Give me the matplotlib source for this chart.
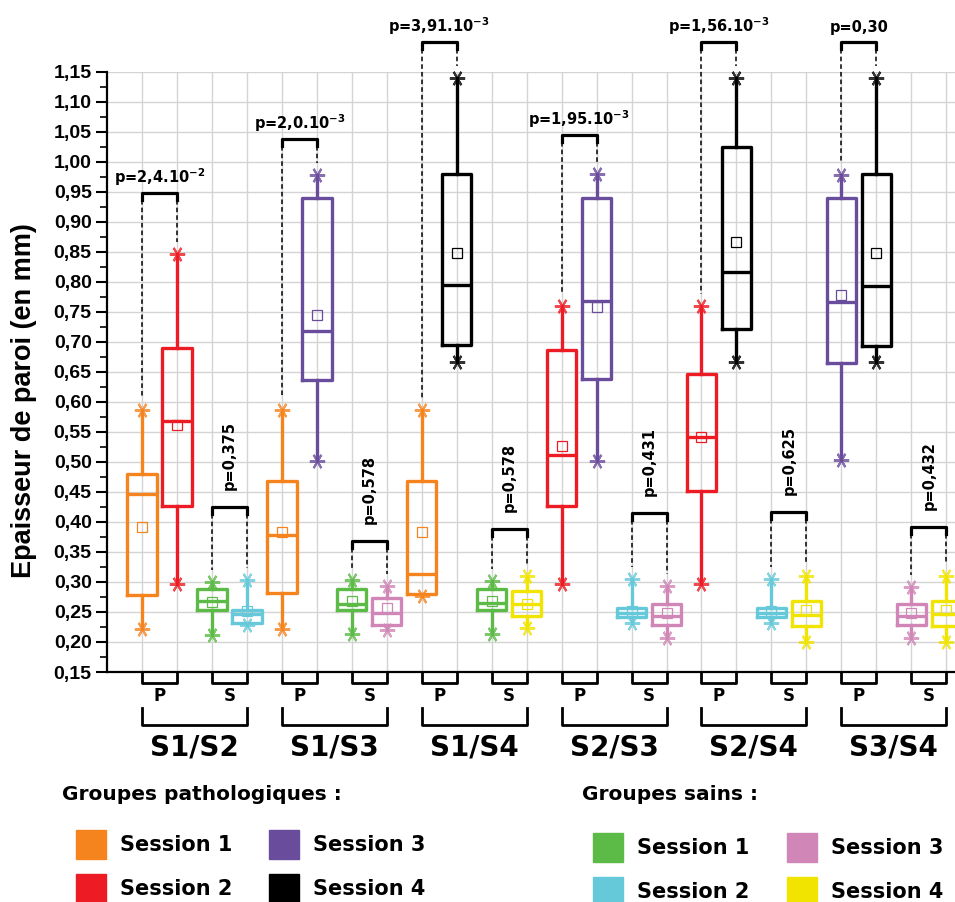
import numpy as np
import matplotlib.pyplot as plt
from matplotlib.patches import Rectangle

# colours of the sessions
path_colors = ['#F5841F', '#ED1C24', '#6A4C9C', '#000000']   # sessions 1-4, pathological
sain_colors = ['#5BBB46', '#66C9DA', '#D087B7', '#F0E400']   # sessions 1-4, healthy

comparisons = ['S1/S2', 'S1/S3', 'S1/S4', 'S2/S3', 'S2/S4', 'S3/S4']
pairs = [(0, 1), (0, 2), (0, 3), (1, 2), (1, 3), (2, 3)]

# box stats, one entry per box, in plotting order (P pair then S pair, per comparison)
whislo = [.221, .297, .211, .228,  .221, .502, .213, .220,  .276, .667, .213, .224,
          .297, .502, .231, .206,  .297, .667, .231, .200,  .503, .667, .206, .200]
q1     = [.278, .427, .254, .232,  .281, .637, .254, .228,  .280, .694, .254, .243,
          .427, .638, .242, .228,  .452, .722, .242, .226,  .665, .693, .228, .227]
med    = [.447, .568, .268, .246,  .379, .718, .263, .249,  .313, .794, .265, .263,
          .512, .768, .248, .243,  .541, .817, .248, .245,  .767, .793, .243, .246]
means  = [.391, .561, .267, .251,  .384, .744, .269, .256,  .383, .848, .269, .263,
          .527, .758, .252, .248,  .542, .867, .252, .253,  .778, .848, .248, .253]
q3     = [.480, .690, .288, .254,  .468, .939, .288, .273,  .468, .980, .288, .285,
          .687, .940, .257, .263,  .646, 1.024, .257, .269, .939, .980, .263, .268]
whishi = [.587, .847, .300, .303,  .587, .978, .303, .293,  .587, 1.139, .302, .310,
          .759, .980, .305, .293,  .760, 1.139, .305, .310, .978, 1.139, .292, .310]

p_path = [r'p=2,4.10$^{\mathbf{-2}}$', r'p=2,0.10$^{\mathbf{-3}}$', r'p=3,91.10$^{\mathbf{-3}}$',
          r'p=1,95.10$^{\mathbf{-3}}$', r'p=1,56.10$^{\mathbf{-3}}$', 'p=0,30']
p_path_h = [0.948, 1.038, 1.200, 1.045, 1.200, 1.200]
p_sain = ['p=0,375', 'p=0,578', 'p=0,578', 'p=0,431', 'p=0,625', 'p=0,432']
p_sain_h = [0.4255, 0.369, 0.388, 0.4155, 0.417, 0.392]

# ---------------------------------------------------------------------------
W, H = 955, 902
fig = plt.figure(figsize=(W / 100, H / 100), dpi=100)
ax = fig.add_axes([107 / W, 1 - 672 / H, 848 / W, 600.3 / H])

box_colors = []
for a, b in pairs:
    box_colors += [path_colors[a], path_colors[b], sain_colors[a], sain_colors[b]]
positions = np.arange(1, 25)

for i, pos in enumerate(positions):
    c = box_colors[i]
    st = dict(whislo=whislo[i], q1=q1[i], med=med[i], mean=means[i], q3=q3[i],
              whishi=whishi[i], fliers=[])
    ax.bxp([st], positions=[pos], widths=0.84, showmeans=True, showcaps=False,
           showfliers=False, manage_ticks=False,
           boxprops=dict(color=c, lw=2.4),
           whiskerprops=dict(color=c, lw=2.4),
           medianprops=dict(color=c, lw=2.4),
           meanprops=dict(marker='s', markerfacecolor='none', markeredgecolor=c,
                          markersize=7, markeredgewidth=0.9))
    for v in (whislo[i], whishi[i]):
        ax.plot(pos, v, marker=(6, 2, 90), ms=11, mew=1.5, color=c, alpha=0.8,
                zorder=4, clip_on=False)

# p-value brackets
leg = 0.012
for k in range(6):
    x1, x2 = positions[4 * k], positions[4 * k + 1]
    h = p_path_h[k]
    ax.plot([x1, x1, x2, x2], [h - leg, h, h, h - leg], color='black', lw=2.3,
            clip_on=False, zorder=5)
    for x, idx in ((x1, 4 * k), (x2, 4 * k + 1)):
        ax.plot([x, x], [h - leg, whishi[idx] + 0.02], color='black', lw=1.1,
                ls=(0, (3, 2)), clip_on=False, zorder=5)
    ax.text((x1 + x2) / 2, h + 0.016, p_path[k], ha='center', va='baseline',
            fontsize=10.5, fontweight='bold', family='DejaVu Sans', clip_on=False)

    x1, x2 = positions[4 * k + 2], positions[4 * k + 3]
    h = p_sain_h[k]
    ax.plot([x1, x1, x2, x2], [h - leg, h, h, h - leg], color='black', lw=2.3,
            clip_on=False, zorder=5)
    for x, idx in ((x1, 4 * k + 2), (x2, 4 * k + 3)):
        ax.plot([x, x], [h - leg, whishi[idx] + 0.02], color='black', lw=1.1,
                ls=(0, (3, 2)), clip_on=False, zorder=5)
    ax.text((x1 + x2) / 2, h + 0.028, p_sain[k], ha='center', va='bottom',
            rotation=90, fontsize=10.5, fontweight='bold', family='DejaVu Sans')

# axes styling
ax.set_xlim(0, 24.25)
ax.set_ylim(0.15, 1.15)
yt = np.round(np.arange(0.15, 1.151, 0.05), 2)
ax.set_yticks(yt)
ax.set_yticklabels([f'{v:.2f}'.replace('.', ',') for v in yt],
                   fontsize=14, fontweight='bold', family='Liberation Sans')
ax.set_yticks(np.arange(0.175, 1.15, 0.05), minor=True)
ax.tick_params(axis='y', which='major', length=8, width=1.5, pad=3)
ax.tick_params(axis='y', which='minor', length=5, width=1.2)
ax.set_xticks(positions)
ax.tick_params(axis='x', length=0, labelbottom=False)
ax.grid(True, which='major', color='#d4d4d4', lw=1)
ax.set_axisbelow(True)
for s in ('top', 'right'):
    ax.spines[s].set_visible(False)
for s in ('left', 'bottom'):
    ax.spines[s].set_linewidth(1.6)

# brackets under the axis
for k in range(6):
    for j, lab in ((0, 'P'), (2, 'S')):
        x1, x2 = positions[4 * k + j], positions[4 * k + j + 1]
        ax.plot([x1, x1, x2, x2], [0.15, 0.132, 0.132, 0.15], color='black',
                lw=2, clip_on=False)
        ax.text((x1 + x2) / 2, 0.11, lab, ha='center', va='center', fontsize=12,
                fontweight='bold', family='DejaVu Sans')
    x1, x2 = positions[4 * k], positions[4 * k + 3]
    ax.plot([x1, x1, x2, x2], [0.09, 0.0617, 0.0617, 0.09], color='black',
            lw=2, clip_on=False)
    ax.text((x1 + x2) / 2, 0.025, comparisons[k], ha='center', va='center',
            fontsize=20, fontweight='bold', family='DejaVu Sans')

fig.text(24 / W, 1 - 401 / H, 'Epaisseur de paroi (en mm)', rotation=90,
         ha='center', va='center', fontsize=19.5, fontweight='bold',
         family='Liberation Sans')

# legend
def px(x, y):
    return x / W, 1 - y / H

fig.text(*px(62, 795), 'Groupes pathologiques :', ha='left', va='center',
         fontsize=14.5, fontweight='bold', family='DejaVu Sans')
fig.text(*px(582, 795), 'Groupes sains :', ha='left', va='center',
         fontsize=14.5, fontweight='bold', family='DejaVu Sans')

path_slots = [(76, 830), (76, 874), (269, 830), (269, 874)]
sain_slots = [(593, 833), (593, 877), (787, 833), (787, 877)]
for colors, slots in ((path_colors, path_slots), (sain_colors, sain_slots)):
    for n, (c, (x, y)) in enumerate(zip(colors, slots)):
        fig.patches.append(Rectangle(px(x, y + 29), 30 / W, 29 / H, color=c,
                                     transform=fig.transFigure, figure=fig))
        fig.text(*px(x + 44, y + 15), f'Session {n + 1}', ha='left', va='center',
                 fontsize=15, fontweight='bold', family='DejaVu Sans')

fig.savefig('out.png', dpi=100)
